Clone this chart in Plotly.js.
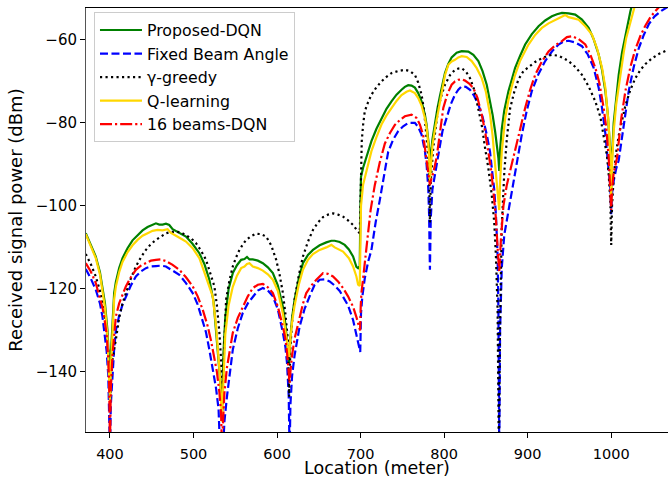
<!DOCTYPE html>
<html><head><meta charset="utf-8">
<script src="https://cdn.plot.ly/plotly-3.0.1.min.js"></script>
<style>html,body{margin:0;padding:0;background:#fff}#chart{width:668px;height:478px}</style>
</head><body><div id="chart"></div>
<script>
// Location (m), received power (dBm) pairs
const proposedDQN = [[371,-106.6],[377,-109.2],[383,-112.2],[388,-116],[391,-119.4],[394,-123.5],[397,-130],[399,-137],[400,-142],[401,-136],[403,-127],[405,-121],[407,-118.4],[411,-115],[415,-112.6],[421,-110.2],[427,-108.3],[433,-107],[439,-105.9],[445,-105.1],[451,-104.6],[455,-104.2],[459,-104.5],[463,-104.5],[467,-104.3],[471,-104.6],[475,-105.6],[483,-106.4],[491,-107.4],[499,-109.2],[507,-111.4],[513,-114],[519,-117.8],[524,-123],[527,-130.6],[530,-136],[532,-141],[534,-147],[536,-135],[538,-127],[542,-120],[547,-116.2],[552,-114.3],[557,-113],[561,-112.8],[564,-112.3],[567,-112.9],[571,-112.9],[577,-113.2],[583,-113.8],[589,-114.8],[595,-116.2],[601,-119.2],[607,-124.3],[610,-128.5],[613,-134.7],[614.5,-138],[616,-132],[618,-127],[621,-122.6],[626,-117.5],[631,-113.8],[637,-111.8],[643,-110.6],[651,-109.5],[659,-108.8],[665,-108.4],[669,-108.4],[675,-108.7],[681,-109.4],[686,-110.5],[691,-112.2],[695,-114.7],[697,-115],[699,-114.5],[699.8,-100],[700.5,-93],[703,-90.8],[708,-87.4],[713,-84.4],[719,-81.4],[725,-78.8],[731,-76.6],[737,-74.8],[743,-73.2],[749,-72],[753,-71.3],[757,-70.9],[761,-71],[765,-71.5],[769,-72.8],[773,-74.8],[777,-78],[779,-80.4],[781,-83.5],[782,-86],[783,-92.5],[784,-88],[786,-84],[789,-80],[792,-76.5],[795,-73.5],[798,-70.5],[801,-68],[805,-65.8],[809,-64.2],[815,-63.1],[821,-62.7],[829,-62.8],[835,-63.6],[841,-65.1],[846,-67.5],[851,-70.8],[855,-74.5],[858,-78],[861,-82],[863,-85],[865,-88.5],[866,-91.6],[867,-86.5],[869,-81.5],[872,-77],[877,-72.4],[881,-69.4],[885,-66.7],[891,-63.8],[897,-61.1],[905,-58.6],[913,-56.7],[921,-55.3],[929,-54.3],[935,-53.8],[941,-53.5],[949,-53.6],[957,-53.9],[965,-55.1],[973,-57.1],[979,-59.8],[985,-63.5],[989,-67.2],[993,-72.3],[996,-78],[998,-83],[999,-87],[1000,-97],[1001,-88],[1003,-80],[1006,-73.5],[1009,-68.4],[1013,-63],[1017,-58.7],[1020,-55.8],[1023,-53.1],[1026,-50.8],[1030,-48]];

const fixedBeam = [[371,-115.2],[377,-117.5],[383,-120.2],[388,-123.5],[391,-126.7],[394,-131],[396,-135],[398,-141],[399,-147],[400,-160],[401,-148],[403,-140],[405,-134.5],[407,-130],[411,-126.5],[415,-123.8],[419,-121.8],[425,-119.2],[431,-117],[437,-115.8],[443,-115],[449,-114.6],[455,-114.5],[461,-114.4],[467,-114.6],[475,-115.5],[483,-116.6],[491,-118.6],[499,-121],[505,-123.8],[511,-127.5],[515,-130.5],[519,-134.7],[523,-139],[527,-144],[530,-149],[532,-160],[535,-160],[537,-152],[540,-146],[544,-139],[547,-134.7],[553,-129.5],[559,-125.8],[565,-123.5],[571,-121.8],[577,-120.4],[583,-119.8],[589,-120.4],[595,-121.8],[601,-125],[607,-130.6],[610,-134],[612,-138],[614,-146],[615,-160],[616,-148],[618,-141],[621,-136],[627,-129.1],[633,-124.8],[639,-121.8],[645,-119],[651,-117.8],[657,-117.7],[663,-118.2],[669,-119.2],[675,-120.5],[679,-121.8],[685,-124],[691,-127.5],[695,-130.8],[699,-134.7],[699.6,-135.2],[700.5,-126],[702,-122],[705,-117.5],[709,-113.5],[713,-110.6],[718,-104],[723,-98.6],[729,-91],[733,-87],[739,-84],[745,-82],[751,-80.8],[757,-80],[765,-80],[769,-81],[773,-82.8],[777,-86.8],[779,-90],[781,-95.7],[782,-102],[783,-115.4],[784,-103],[786,-96],[789,-92.5],[793,-88],[798,-82],[803,-78.8],[808,-75.5],[813,-73.2],[817,-72],[821,-71.2],[826,-71.3],[831,-72],[836,-73.5],[841,-75.6],[846,-78.5],[851,-82.8],[855,-87],[857,-90.8],[860,-96],[862,-102],[864,-112],[865,-125],[866,-160],[867,-130],[869,-115],[872,-107],[877,-101],[881,-96.5],[887,-89.5],[893,-82.8],[899,-77],[905,-72.3],[913,-68.2],[921,-65.1],[929,-62.8],[937,-61.1],[943,-60.4],[949,-60.2],[957,-60.6],[965,-61.5],[972,-63.5],[979,-66.7],[985,-71.5],[989,-76.4],[993,-82.5],[997,-90.8],[999,-96],[1000,-102],[1001,-97],[1003,-94],[1006,-91],[1009,-89],[1015,-80],[1021,-72.3],[1027,-66.5],[1033,-62],[1039,-58.8],[1045,-56.2],[1052,-54.3],[1060,-53],[1068,-52]];

const gammaGreedy = [[371,-111.6],[377,-114],[383,-117],[388,-120.5],[393,-125.1],[396,-129.5],[398,-135],[399.5,-141],[400.3,-146.5],[401.5,-141],[403,-137],[407,-132.3],[411,-127],[415,-123.5],[419,-121],[425,-117.5],[431,-114.6],[437,-112.4],[443,-110.6],[449,-109.2],[455,-108.2],[461,-107.3],[467,-106.6],[473,-106.3],[479,-106.2],[485,-106.4],[491,-107],[497,-107.8],[503,-109],[509,-110.8],[515,-113],[520,-116],[525,-119.4],[528,-124],[531,-130.6],[533,-137],[534.5,-151],[536,-138],[537,-131],[539,-122.6],[543,-118],[547,-114.6],[551,-112.4],[555,-110.6],[559,-109.3],[563,-108.2],[569,-107.3],[575,-106.7],[581,-106.8],[587,-107.4],[593,-109.5],[599,-113],[603,-116.5],[607,-121],[610,-126],[613,-132.3],[614.5,-146],[616,-134],[618,-128],[621,-122.6],[626,-116.8],[631,-112.2],[637,-108.6],[643,-105.8],[649,-104],[655,-102.7],[661,-102.1],[667,-101.8],[673,-102.1],[679,-102.6],[685,-103.5],[691,-104.6],[695,-105.7],[699,-106.6],[699.8,-100],[700.5,-88],[701.4,-84.4],[703,-80.5],[705,-77.2],[709,-75],[713,-73.2],[719,-71.4],[725,-70],[731,-68.9],[737,-68],[745,-67.5],[753,-67.2],[759,-67.5],[765,-68.4],[769,-70.3],[773,-73.2],[776,-77],[779,-82.8],[781,-88],[782,-92.4],[783,-104],[784,-94],[785.5,-89],[787,-86],[790,-81],[793,-76.4],[797,-73.2],[801,-70.8],[807,-68.5],[813,-67.2],[817,-66.9],[821,-66.8],[826,-67.6],[831,-69.2],[836,-72],[841,-76.4],[845,-80.5],[849,-86],[853,-91],[857,-97.3],[860,-104],[862,-112],[864,-125],[865.5,-160],[867,-128],[869,-105],[872,-92],[875,-84],[879,-76.5],[884,-72.5],[889,-69.5],[895,-67.5],[901,-66.5],[909,-65.3],[917,-64.4],[923,-63.9],[929,-63.6],[937,-63.8],[943,-64.4],[949,-65.1],[957,-66.5],[965,-68.4],[973,-71.2],[981,-74.8],[987,-78.5],[991,-82.8],[995,-88],[997,-92.4],[999,-99],[1000,-109.4],[1001,-100],[1003,-93],[1006,-87],[1009,-83],[1013,-79],[1017,-75.8],[1023,-72],[1029,-69.2],[1035,-67.2],[1041,-65.8],[1049,-64.4],[1057,-63.4],[1068,-62.4]];

const qLearning = [[371,-106.8],[377,-109.6],[383,-112.6],[388,-116.5],[391,-120],[394,-124.5],[397,-131.5],[399,-140],[400,-147],[401,-139],[403,-129],[405,-122.5],[407,-119.5],[411,-116],[415,-113.5],[421,-111.2],[427,-109.5],[433,-108.2],[439,-107.2],[445,-106.5],[451,-106],[457,-105.8],[463,-105.9],[469,-105.6],[473,-106.5],[479,-107.2],[487,-108],[491,-108.6],[499,-110.2],[507,-112.6],[513,-116],[519,-119.5],[523,-121.8],[527,-129],[530,-136],[532,-142],[534,-152],[536,-140],[538,-131],[542,-124],[547,-119.5],[552,-116.8],[557,-115],[561,-114.6],[564,-114],[567,-113.8],[571,-114.6],[577,-115],[583,-115.6],[589,-116.5],[595,-117.8],[601,-120.5],[607,-126],[610,-130],[613,-134],[614.5,-136.4],[616,-132],[618,-128],[621,-124],[626,-119],[631,-115.4],[637,-113],[643,-111.6],[651,-110.6],[659,-110],[665,-109.4],[669,-110],[675,-110.5],[679,-111],[686,-112.6],[691,-114.6],[695,-117],[697,-119],[699,-119.3],[699.8,-110],[700.5,-100],[703,-94.9],[708,-90.5],[713,-86.8],[719,-83.4],[725,-80.4],[731,-78.2],[737,-76.4],[743,-74.7],[749,-73.3],[755,-72.5],[759,-72.2],[765,-72.8],[769,-74],[773,-75.8],[777,-78.8],[779,-81],[781,-85],[782,-88],[783,-94],[784,-90],[786,-85.5],[789,-81.5],[792,-78],[795,-74.5],[798,-71],[801,-68.5],[805,-66],[809,-65.2],[813,-64.8],[817,-64.2],[821,-63.9],[827,-64.1],[833,-65.1],[839,-66.8],[845,-69.2],[850,-72.5],[855,-78],[858,-83],[861,-90],[863,-95],[865,-100],[866,-101],[867,-94],[869,-87],[873,-79],[877,-74.5],[881,-71.2],[885,-68.4],[891,-65],[897,-62.5],[901,-61.1],[909,-58.8],[917,-57.1],[925,-56],[933,-55.3],[939,-54.6],[945,-54],[949,-54.5],[955,-54.8],[961,-55.1],[969,-56.7],[977,-58.7],[983,-62],[989,-66.7],[993,-71.5],[997,-80.4],[999,-88],[1000,-99],[1001,-90],[1003,-82],[1006,-75.5],[1009,-71],[1011,-68.4],[1015,-63],[1018,-59.5],[1021,-57.1],[1024,-54.5],[1027.6,-52.3],[1031,-50]];

const beams16DQN = [[371,-113.8],[377,-115.8],[383,-118.6],[388,-122],[391,-124.5],[393,-126.7],[396,-131],[398,-137],[399,-143],[400,-158],[401,-144],[403,-136],[405,-131],[407,-126.7],[411,-123.5],[415,-121.3],[419,-119.4],[425,-117.2],[431,-115.4],[437,-114.4],[443,-113.7],[449,-113.2],[455,-113],[461,-112.9],[467,-113.3],[475,-114.2],[483,-115.4],[491,-117.2],[499,-119.4],[505,-121.8],[511,-125],[517,-129],[521,-132.5],[524,-135.5],[528,-140],[531,-145],[533,-150],[534,-158],[535,-152],[537,-145],[540,-139],[544,-134],[547,-130.6],[553,-127],[559,-124.3],[565,-121.8],[571,-119.8],[577,-119],[583,-118.8],[589,-119.6],[595,-121],[601,-124.3],[607,-129.1],[610,-132],[612,-135.5],[614,-140],[615,-142.7],[616,-140],[618,-136],[621,-132],[627,-126.7],[631,-123.6],[635,-121],[641,-119.2],[647,-117.8],[655,-116.2],[661,-116.4],[667,-117],[673,-118.2],[679,-119.8],[685,-121.8],[691,-124.3],[695,-126.8],[698,-129.5],[699.4,-130],[700.2,-124],[701,-121],[703,-117.5],[707,-110.5],[712,-101],[717,-95],[723,-89.5],[729,-85],[735,-82.5],[741,-80.5],[747,-79.3],[753,-78.4],[761,-78],[767,-78.8],[771,-80.4],[775,-83],[777,-86],[779.5,-89.5],[781,-92],[782,-94],[783,-95],[784,-94],[787,-92],[791,-88.4],[795,-82],[799,-76.4],[804,-73],[809,-70.8],[813,-70],[817,-69.6],[821,-69.5],[825,-69.8],[830,-70.5],[835,-71.6],[840,-74],[845,-78],[849,-82],[853,-86.8],[856,-91],[859,-96.5],[862,-103],[864,-110],[866,-116],[868,-108],[871,-100],[875,-95],[880,-91],[885,-86.5],[891,-81.5],[897,-76.4],[903,-72],[909,-68.4],[917,-65.2],[925,-62.8],[933,-61.3],[941,-60.3],[947,-59.3],[953,-59.1],[961,-59.8],[969,-61.1],[975,-63.5],[981,-66.7],[986,-70.5],[991,-76.4],[994,-81],[997,-88.4],[999,-95],[1000,-101],[1001,-96],[1003,-92],[1007,-88.4],[1012,-79],[1017,-72.3],[1023,-66.5],[1029,-62.2],[1035,-59],[1041,-56.5],[1047,-54.5],[1053,-53],[1060,-51.5],[1068,-50.5]];

const seriesNames = ['Proposed-DQN', 'Fixed Beam Angle', 'γ-greedy', 'Q-learning', '16 beams-DQN'];
const seriesData = [proposedDQN, fixedBeam, gammaGreedy, qLearning, beams16DQN];
const xTicks = [400, 500, 600, 700, 800, 900, 1000];
const yTicks = [-140, -120, -100, -80, -60];

const styles = [
  {color: '#008000', dash: 'solid'},
  {color: '#0000ff', dash: '8px,3.5px'},
  {color: '#000000', dash: '2.2px,3.3px'},
  {color: '#ffd700', dash: 'solid'},
  {color: '#ff0000', dash: '12px,3px,2.2px,3px'}
];

const traces = seriesNames.map((name, i) => ({
  type: 'scatter', mode: 'lines', name: name,
  x: seriesData[i].map(p => p[0]),
  y: seriesData[i].map(p => p[1]),
  line: {color: styles[i].color, dash: styles[i].dash, width: 2.2}
}));

const layout = {
  width: 668, height: 478,
  margin: {l: 86, r: 0, t: 8, b: 46},
  paper_bgcolor: '#ffffff', plot_bgcolor: '#ffffff',
  font: {family: 'DejaVu Sans', size: 15, color: '#000'},
  showlegend: true,
  legend: {
    x: 0.0137, y: 0.990, xanchor: 'left', yanchor: 'top',
    bgcolor: 'rgba(255,255,255,0.85)', bordercolor: '#cccccc', borderwidth: 1,
    font: {family: 'DejaVu Sans', size: 15.8, color: '#000'},
    itemwidth: 42
  },
  xaxis: {
    range: [371.3, 1068], tickvals: xTicks, ticks: 'outside', ticklen: 5, tickwidth: 1, tickcolor: '#000',
    showline: true, linecolor: '#000', linewidth: 1, mirror: true, showgrid: false, zeroline: false,
    tickfont: {family: 'DejaVu Sans', size: 14.5}, ticklabelstandoff: 4,
    title: {text: 'Location (meter)', font: {family: 'DejaVu Sans', size: 17.5}, standoff: 3}
  },
  yaxis: {
    range: [-154.5, -52.3], tickvals: yTicks, ticks: 'outside', ticklen: 5, tickwidth: 1, tickcolor: '#000',
    showline: true, linecolor: '#555', linewidth: 1, showgrid: false, zeroline: false,
    tickfont: {family: 'DejaVu Sans', size: 15},
    title: {text: 'Received signal power (dBm)', font: {family: 'DejaVu Sans', size: 18}, standoff: 8}
  }
};

Plotly.newPlot('chart', traces, layout, {displayModeBar: false, staticPlot: true});
</script></body></html>
